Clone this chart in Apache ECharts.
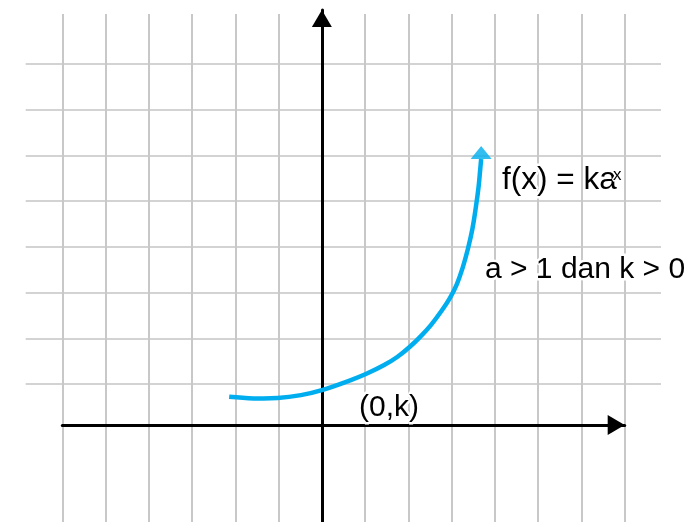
<!DOCTYPE html>
<html>
<head>
<meta charset="utf-8">
<title>f(x) = ka^x</title>
<script src="https://cdn.jsdelivr.net/npm/echarts@6/dist/echarts.min.js"></script>
<style>
  html, body { margin: 0; padding: 0; background: #fff; }
  #chart { width: 696px; height: 522px; }
</style>
</head>
<body>
<div id="chart"></div>
<script>
// 竖向网格线所在的 x 值（-6 .. 7）
const gridXMin = -6;
const gridXMax = 7;
// 横向网格线条数 - 1
const gridRows = 7;

// 数据坐标系的 y 范围（格子单位，0 为 x 轴）
const yMin = -2.12;
const yMax = 9.08;

// 曲线 f(x) = ka^x 的描点
const curveX = [-2.143, -1.572, -1.024, -0.485, 0, 0.670, 1.017, 1.440, 1.750, 2.034, 2.289, 2.520,
  2.751, 2.959, 3.121, 3.259, 3.375, 3.479, 3.560, 3.622, 3.659, 3.682];
const curveY = [0.619, 0.584, 0.591, 0.656, 0.766, 0.985, 1.116, 1.313, 1.495, 1.713, 1.947, 2.188,
  2.479, 2.779, 3.085, 3.457, 3.851, 4.289, 4.770, 5.208, 5.580, 5.821];

// 文字
const formulaText = 'f(x) = ka';
const formulaSup = 'x';
const conditionText = 'a > 1 dan k > 0';
const pointText = '(0,k)';

const curveColor = '#00aeef';

let chart;

window.onload = function () {
  init();
};

function init() {
  chart = echarts.init(document.getElementById('chart'), null, { renderer: 'canvas' });
  render();
}

function hiddenAxis(gridIndex) {
  return {
    gridIndex,
    type: 'value',
    show: false,
    min: 0,
    max: 1,
  };
}

function arrowAxis(gridIndex, min, max) {
  return {
    gridIndex,
    type: 'value',
    min,
    max,
    axisLine: {
      show: true,
      onZero: true,
      symbol: ['none', 'triangle'],
      symbolSize: [20, 17],
      symbolOffset: [0, -8.5],
      lineStyle: { color: '#000', width: 3 },
    },
    axisTick: { show: false },
    axisLabel: { show: false },
    splitLine: { show: false },
  };
}

function render() {
  const curveData = curveX.map((x, i) => [x, curveY[i]]);
  const tip = curveData[curveData.length - 1];

  const textStyle = {
    fill: '#000',
    fontFamily: '"Liberation Sans", Arial, sans-serif',
    stroke: '#fff',
    lineWidth: 5,
    verticalAlign: 'middle',
    align: 'left',
  };

  const option = {
    backgroundColor: '#fff',
    animation: false,
    grid: [
      // 竖线
      { left: 62.3, right: 71.3, top: 14, bottom: 0 },
      // 横线
      { left: 25.7, right: 35, top: 64, bottom: 138 },
      // 坐标轴与曲线
      { left: 62.3, right: 71.3, top: 10, bottom: 0 },
    ],
    xAxis: [
      {
        gridIndex: 0,
        type: 'value',
        min: gridXMin,
        max: gridXMax,
        interval: 1,
        axisLine: { show: false },
        axisTick: { show: false },
        axisLabel: { show: false },
        splitLine: { show: true, lineStyle: { color: '#c8c8c8', width: 2 } },
      },
      hiddenAxis(1),
      arrowAxis(2, gridXMin, gridXMax),
    ],
    yAxis: [
      hiddenAxis(0),
      {
        gridIndex: 1,
        type: 'value',
        min: 0,
        max: gridRows,
        interval: 1,
        axisLine: { show: false },
        axisTick: { show: false },
        axisLabel: { show: false },
        splitLine: { show: true, lineStyle: { color: '#c4c4c4', width: 1.5 } },
      },
      arrowAxis(2, yMin, yMax),
    ],
    series: [
      {
        // 平滑曲线：用样条连接所有描点
        type: 'custom',
        xAxisIndex: 2,
        yAxisIndex: 2,
        data: curveData,
        encode: { x: 0, y: 1 },
        clip: false,
        silent: true,
        renderItem: (params, api) => {
          if (params.dataIndex !== 0) {
            return null;
          }
          const points = curveData.map(p => api.coord(p));
          return {
            type: 'polyline',
            shape: { points, smooth: 0.4 },
            style: { stroke: curveColor, lineWidth: 4.5, fill: null },
          };
        },
        z: 3,
      },
      {
        // 曲线末端的箭头
        type: 'scatter',
        xAxisIndex: 2,
        yAxisIndex: 2,
        data: [tip],
        symbol: 'triangle',
        symbolSize: [21, 13],
        symbolOffset: [0, '-50%'],
        silent: true,
        itemStyle: { color: curveColor },
        z: 4,
      },
    ],
    graphic: [
      {
        type: 'text',
        x: 502, y: 180,
        style: Object.assign({}, textStyle, { text: formulaText, fontSize: 31.5 }),
        z: 10,
      },
      {
        type: 'text',
        x: 613, y: 175,
        style: Object.assign({}, textStyle, { text: formulaSup, fontSize: 17, lineWidth: 3 }),
        z: 10,
      },
      {
        type: 'text',
        x: 485, y: 270,
        style: Object.assign({}, textStyle, { text: conditionText, fontSize: 30 }),
        z: 10,
      },
      {
        type: 'text',
        x: 359, y: 408,
        style: Object.assign({}, textStyle, { text: pointText, fontSize: 30 }),
        z: 10,
      },
    ],
  };

  chart.setOption(option);
}
</script>
</body>
</html>
